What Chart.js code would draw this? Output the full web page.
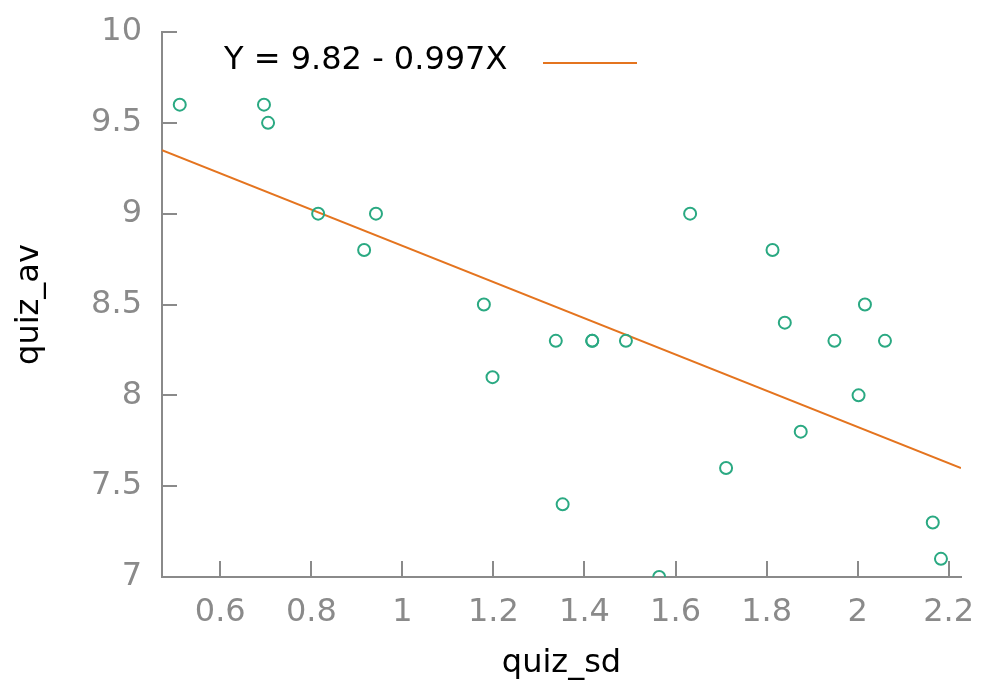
<!DOCTYPE html>
<html>
<head>
<meta charset="utf-8">
<script src="https://cdn.jsdelivr.net/npm/chart.js@4"></script>
<style>
  body { margin: 0; background: #fff; }
  #wrap { width: 986px; height: 683px; }
</style>
</head>
<body>
<div id="wrap"><canvas id="myChart"></canvas></div>
<script>
// data
var quizSd = [0.511, 0.696, 0.705, 0.815, 0.942, 0.916, 1.179, 1.198, 1.337, 1.417, 1.417, 1.491,
              1.352, 1.564, 1.632, 1.711, 1.813, 1.840, 1.875, 1.949, 2.016, 2.002, 2.060, 2.165, 2.183];
var quizAv = [9.6, 9.6, 9.5, 9.0, 9.0, 8.8, 8.5, 8.1, 8.3, 8.3, 8.3, 8.3,
              7.4, 7.0, 9.0, 7.6, 8.8, 8.4, 7.8, 8.3, 8.5, 8.0, 8.3, 7.3, 7.1];
var intercept = 9.82;
var slope = -0.997;
var xTicks = [0.6, 0.8, 1, 1.2, 1.4, 1.6, 1.8, 2, 2.2];
var yTicks = [7, 7.5, 8, 8.5, 9, 9.5, 10];
var xMin = 0.472, xMax = 2.227;

var points = [];
for (var i = 0; i < quizSd.length; i++) {
    points.push({x: quizSd[i], y: quizAv[i]});
}
var fitLine = [
    {x: xMin, y: intercept + slope * xMin},
    {x: xMax, y: intercept + slope * xMax}
];

var green = '#2aa982';
var orange = '#e4741f';
var gray = '#8a8a8a';

// tick marks point into the plot, so draw them here
var innerTicks = {
    id: 'innerTicks',
    afterDraw: function(chart) {
        var ctx = chart.ctx;
        var xs = chart.scales.x, ys = chart.scales.y;
        var a = chart.chartArea;
        ctx.save();
        ctx.strokeStyle = gray;
        ctx.lineWidth = 2;
        ctx.beginPath();
        xTicks.forEach(function(v) {
            var px = Math.round(xs.getPixelForValue(v));
            ctx.moveTo(px, a.bottom);
            ctx.lineTo(px, a.bottom - 16);
        });
        yTicks.forEach(function(v) {
            var py = Math.round(ys.getPixelForValue(v));
            ctx.moveTo(a.left, py);
            ctx.lineTo(a.left + 15, py);
        });
        ctx.stroke();

        // legend inside the plot: text then a line sample
        var label = 'Y = ' + intercept + ' - ' + Math.abs(slope) + 'X';
        ctx.font = '32px "DejaVu Sans"';
        ctx.fillStyle = '#000';
        ctx.textBaseline = 'middle';
        ctx.textAlign = 'left';
        ctx.fillText(label, a.left + 62, a.top + 29);
        ctx.strokeStyle = orange;
        ctx.lineWidth = 2;
        ctx.beginPath();
        ctx.moveTo(543, a.top + 31);
        ctx.lineTo(637, a.top + 31);
        ctx.stroke();
        ctx.restore();
    }
};

function plainLabel(v) { return String(v); }

var config = {
    type: 'scatter',
    data: {
        datasets: [{
            label: 'quiz_av',
            data: points,
            pointStyle: 'circle',
            pointRadius: 6,
            pointHoverRadius: 6,
            borderColor: green,
            backgroundColor: 'rgba(0,0,0,0)',
            borderWidth: 2
        }, {
            type: 'line',
            label: 'fit',
            data: fitLine,
            borderColor: orange,
            borderWidth: 2,
            pointRadius: 0,
            fill: false
        }]
    },
    options: {
        responsive: true,
        maintainAspectRatio: false,
        animation: false,
        layout: { padding: { top: 32, right: 25, left: 0, bottom: 0 } },
        plugins: {
            legend: { display: false },
            tooltip: { enabled: false }
        },
        scales: {
            x: {
                type: 'linear',
                min: xMin,
                max: xMax,
                afterBuildTicks: function(s) { s.ticks = xTicks.map(function(v) { return {value: v}; }); },
                afterFit: function(s) { s.height = 106; s.paddingLeft = 0; s.paddingRight = 0; },
                grid: { display: false, drawTicks: false },
                border: { display: true, color: gray, width: 2 },
                ticks: { color: gray, padding: 16, maxRotation: 0, callback: plainLabel,
                         font: { family: 'DejaVu Sans', size: 32 } },
                title: { display: true, text: 'quiz_sd', color: '#000', padding: { top: 0, bottom: 0 },
                         font: { family: 'DejaVu Sans', size: 32 } }
            },
            y: {
                min: 7,
                max: 10,
                afterBuildTicks: function(s) { s.ticks = yTicks.map(function(v) { return {value: v}; }); },
                afterFit: function(s) { s.width = 162; s.paddingTop = 0; s.paddingBottom = 0; },
                grid: { display: false, drawTicks: false },
                border: { display: true, color: gray, width: 2 },
                ticks: { color: gray, padding: 20, callback: plainLabel,
                         font: { family: 'DejaVu Sans', size: 32, lineHeight: 1 } },
                title: { display: true, text: 'quiz_av', color: '#000', padding: { top: 10 },
                         font: { family: 'DejaVu Sans', size: 32 } }
            }
        }
    },
    plugins: [innerTicks]
};

var ctx = document.getElementById('myChart').getContext('2d');
var myChart = new Chart(ctx, config);
</script>
</body>
</html>
